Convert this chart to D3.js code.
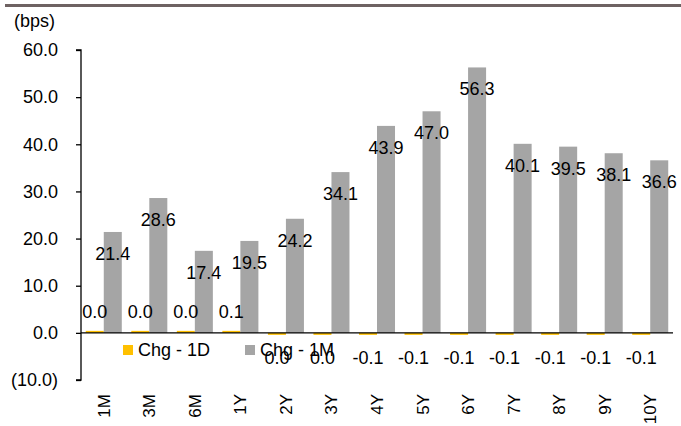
<!DOCTYPE html>
<html>
<head>
<meta charset="utf-8">
<script src="https://cdn.jsdelivr.net/npm/d3@7"></script>
<style>
  body { margin: 0; background: #fff; }
  text { font-family: "Liberation Sans", Arial, sans-serif; fill: #000; }
</style>
</head>
<body>
<div id="chart"></div>
<script>
// tenors along the curve
const tenors = ['1M', '3M', '6M', '1Y', '2Y', '3Y', '4Y', '5Y', '6Y', '7Y', '8Y', '9Y', '10Y'];
// daily and monthly change, bps
const chg1D = [0.04, 0.04, 0.04, 0.09, -0.02, -0.02, -0.1, -0.1, -0.1, -0.1, -0.1, -0.1, -0.1];
const chg1M = [21.4, 28.6, 17.4, 19.5, 24.2, 34.1, 43.9, 47.0, 56.3, 40.1, 39.5, 38.1, 36.6];
const seriesNames = ['Chg - 1D', 'Chg - 1M'];
const yTicks = [-10, 0, 10, 20, 30, 40, 50, 60];

const colors = { 'Chg - 1D': '#ffc000', 'Chg - 1M': '#a5a5a5' };
const W = 681, H = 426;
const svg = d3.select('#chart').append('svg').attr('width', W).attr('height', H);

// thin header rule
svg.append('rect').attr('x', 5).attr('y', 4).attr('width', W - 5).attr('height', 3).attr('fill', '#6e6262');

const y = d3.scaleLinear().domain([-10, 60]).range([380, 50]);
const x0 = d3.scaleBand().domain(tenors).range([81, 673]).padding(0);
const x1 = d3.scaleBand().domain(seriesNames).range([0, x0.bandwidth()]).paddingInner(0).paddingOuter(0.264);

const fmt = v => v <= -5 ? '(' + Math.abs(v).toFixed(1) + ')' : v.toFixed(1);

// y axis
const yAxis = d3.axisLeft(y).tickValues(yTicks).tickSize(5).tickFormat(fmt);
const gy = svg.append('g').attr('transform', 'translate(81,0)').call(yAxis);
gy.select('.domain').attr('stroke', '#000').attr('stroke-width', 1.3).attr('d', 'M-5,' + y(60) + 'H0V' + y(-10) + 'H-5');
gy.selectAll('.tick line').attr('stroke', '#000').attr('stroke-width', 1.3);
gy.selectAll('.tick text').attr('x', -23).style('font-size', '18px').attr('font-family', null);

svg.append('text').attr('x', 14).attr('y', 27).style('font-size', '18px').text('(bps)');

// bars
const rows = tenors.map((t, i) => ({ tenor: t, vals: [{ s: 'Chg - 1D', v: chg1D[i] }, { s: 'Chg - 1M', v: chg1M[i] }] }));
const groups = svg.append('g').selectAll('g').data(rows).enter().append('g')
  .attr('transform', d => 'translate(' + x0(d.tenor) + ',0)');
groups.selectAll('rect').data(d => d.vals).enter().append('rect')
  .attr('x', d => x1(d.s))
  .attr('width', x1.bandwidth())
  .attr('y', d => d.v >= 0 ? Math.min(y(d.v), y(0) - 2) : y(0))
  .attr('height', d => Math.max(Math.abs(y(d.v) - y(0)), 2))
  .attr('fill', d => colors[d.s]);

// x axis line
svg.append('line').attr('x1', 81).attr('x2', 673).attr('y1', y(0)).attr('y2', y(0))
  .attr('stroke', '#000').attr('stroke-width', 1.3);

// legend
const legend = svg.append('g').attr('transform', 'translate(123,345)');
seriesNames.forEach((s, i) => {
  const g = legend.append('g').attr('transform', 'translate(' + (i * 122) + ',0)');
  g.append('rect').attr('width', 10).attr('height', 10).attr('fill', colors[s]);
  g.append('text').attr('x', 15).attr('y', 11).style('font-size', '18px').text(s);
});

// data labels
groups.selectAll('text.lbl').data(d => d.vals).enter().append('text')
  .attr('class', 'lbl')
  .attr('text-anchor', 'middle')
  .style('font-size', '18px')
  .attr('x', d => x1(d.s) + x1.bandwidth() / 2)
  .attr('y', d => {
    if (d.s === 'Chg - 1M') return y(d.v) + 28;
    return d.v >= 0 ? y(0) - 15 : y(0) + 31;
  })
  .text(d => d.v.toFixed(1).replace('-0.0', '0.0'));

// tenor labels
svg.append('g').selectAll('text').data(tenors).enter().append('text')
  .attr('transform', d => 'translate(' + (x0(d) + x0.bandwidth() / 2 + 6) + ',394) rotate(-90)')
  .attr('text-anchor', 'end')
  .style('font-size', '17px')
  .text(d => d);
</script>
</body>
</html>
